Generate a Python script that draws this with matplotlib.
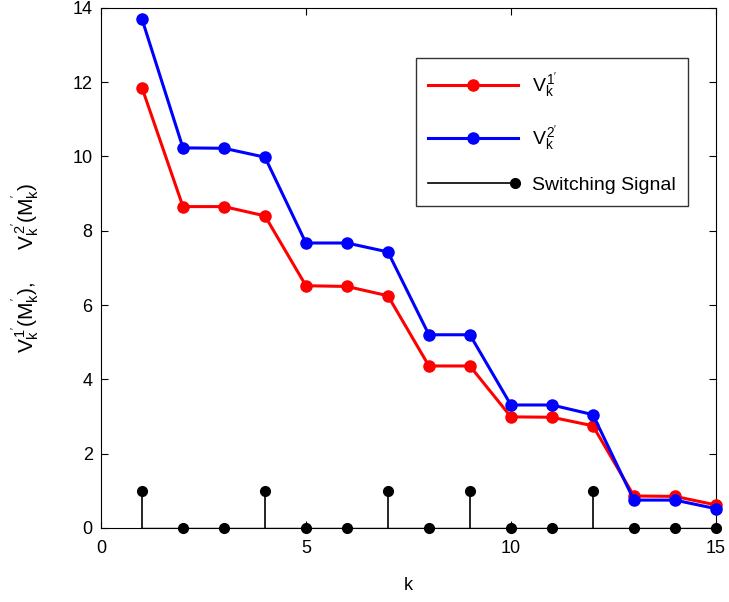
import numpy as np
import matplotlib
matplotlib.use('Agg')
import matplotlib.pyplot as plt
from matplotlib.lines import Line2D
from matplotlib.legend_handler import HandlerBase

plt.rcParams['font.family'] = ['Liberation Sans', 'DejaVu Sans']
plt.rcParams['mathtext.fontset'] = 'custom'
plt.rcParams['mathtext.rm'] = 'Liberation Sans'
plt.rcParams['mathtext.it'] = 'Liberation Sans'

k = np.arange(1, 16)
v1 = [11.85, 8.65, 8.65, 8.4, 6.52, 6.5, 6.25, 4.36, 4.36, 2.99, 2.98, 2.75, 0.86, 0.85, 0.62]
v2 = [13.7, 10.23, 10.22, 9.98, 7.67, 7.67, 7.43, 5.2, 5.2, 3.31, 3.31, 3.05, 0.75, 0.75, 0.52]
switch = [1, 0, 0, 1, 0, 0, 1, 0, 1, 0, 0, 1, 0, 0, 0]


class StemHandler(HandlerBase):
    # line with the marker at its right end, like the matlab stem legend
    def create_artists(self, legend, orig_handle, xdescent, ydescent,
                       width, height, fontsize, trans):
        y = height / 2 - ydescent
        x0, x1 = -xdescent, width - xdescent
        line = Line2D([x0, x1], [y, y], color='k', lw=1.2, transform=trans)
        mk = Line2D([x1 - 2], [y], marker='o', ms=7, color='k', ls='', transform=trans)
        return [line, mk]


fig = plt.figure(figsize=(7.29, 6.02), dpi=100)
ax = fig.add_axes([0.1385, 0.123, 0.8435, 0.864])

l1, = ax.plot(k, v1, 'r-', marker='o', lw=2.2, ms=8, clip_on=False, zorder=3)
l2, = ax.plot(k, v2, 'b-', marker='o', lw=2.2, ms=8, clip_on=False, zorder=4)
markerline, stemlines, baseline = ax.stem(k, switch, linefmt='k-', markerfmt='ko', basefmt='k-')
plt.setp(markerline, markersize=7, clip_on=False, zorder=5)
plt.setp(stemlines, linewidth=1.2)
plt.setp(baseline, linewidth=1)

ax.set_xlim(0, 15)
ax.set_ylim(0, 14)
ax.set_xticks([0, 5, 10, 15])
ax.set_yticks(np.arange(0, 15, 2))
ax.tick_params(direction='in', top=True, right=True, labelsize=13, length=5)
ax.tick_params(axis='x', pad=9)
ax.tick_params(axis='y', pad=6)
ax.set_xlabel('k', fontsize=13, labelpad=14)
ax.set_ylabel(r"$V_k^{1'}(M_k^{'}),\quad\ \ V_k^{2'}(M_k^{'})$", fontsize=15, labelpad=22)

leg = ax.legend([l1, l2, markerline],
                [r"$V_k^{1'}$", r"$V_k^{2'}$", 'Switching Signal'],
                handler_map={markerline: StemHandler()},
                loc='upper right', bbox_to_anchor=(0.9545, 0.904), borderaxespad=0,
                fontsize=14, fancybox=False, edgecolor='black', handlelength=4.6,
                labelspacing=1.15, borderpad=0.65, handletextpad=0.7)
leg.get_frame().set_linewidth(1)

fig.savefig('out.png', dpi=100)
